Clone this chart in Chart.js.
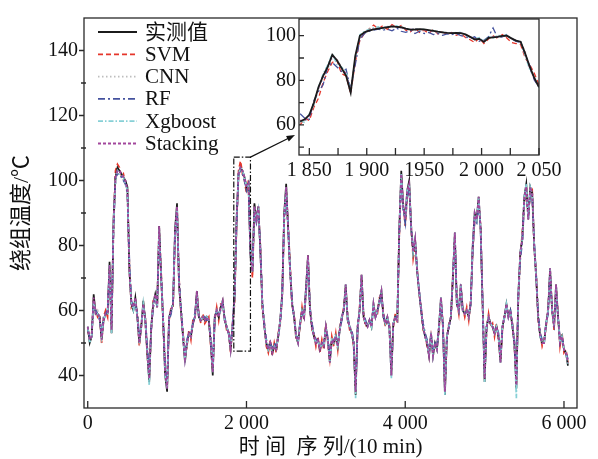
<!DOCTYPE html>
<html>
<head>
<meta charset="utf-8">
<script src="https://cdn.jsdelivr.net/npm/chart.js@4.4.1/dist/chart.umd.min.js"></script>
<style>
  body { margin: 0; background: #fff; }
  #wrap { position: relative; width: 598px; height: 459px; }
  #main { position: absolute; left: 0; top: 0; }
  #zoom { position: absolute; left: 250px; top: 0; }
</style>
</head>
<body>
<div id="wrap">
  <canvas id="main" width="598" height="459"></canvas>
  <canvas id="zoom" width="330" height="190"></canvas>
</div>
<script>
'use strict';

// whole run, one value every 25 samples starting at 0
const STEP = 25;
const measured = [
  55, 50, 52, 65, 59, 59, 58, 51, 57, 59,
  59, 75, 53, 88, 101, 104, 103, 102, 101, 100,
  98, 72, 62, 60, 64, 58, 50, 55, 63, 57,
  47, 38, 55, 62, 65, 61, 86, 70, 57, 40,
  35, 58, 60, 62, 85, 93, 68, 60, 52, 44,
  50, 53, 52, 56, 58, 66, 58, 57, 58, 57,
  58, 57, 50, 40, 58, 60, 58, 61, 63, 57,
  55, 53, 48, 55, 64, 88, 102, 104, 103, 101,
  98, 99, 77, 72, 93, 88, 92, 78, 62, 55,
  50, 48, 50, 47, 49, 48, 52, 57, 65, 90,
  99, 85, 72, 62, 58, 52, 50, 56, 60, 58,
  67, 77, 60, 55, 52, 50, 51, 48, 50, 49,
  55, 51, 44, 51, 50, 52, 49, 54, 58, 60,
  68, 57, 55, 53, 50, 34, 55, 60, 71, 58,
  56, 55, 57, 55, 62, 58, 60, 63, 66, 58,
  56, 58, 55, 40, 56, 58, 57, 85, 103, 92,
  88, 97, 100, 85, 78, 82, 72, 66, 60, 55,
  52, 50, 46, 53, 46, 50, 48, 55, 64, 55,
  34, 52, 55, 58, 70, 84, 62, 60, 68, 60,
  59, 60, 58, 62, 80, 90, 88, 95, 85, 62,
  38, 55, 58, 56, 55, 53, 55, 52, 44, 55,
  58, 62, 58, 60, 55, 50, 36, 65, 78, 82,
  95, 99, 88, 98, 96, 80, 70, 58, 52, 50,
  50, 56, 60, 73, 60, 55, 68, 58, 50, 52,
  48, 47, 43
];
const svm = [
  54, 51, 53, 63, 60, 58, 59, 50, 58, 60,
  58, 73, 55, 86, 103, 105, 104, 101, 102, 99,
  97, 74, 61, 62, 63, 59, 49, 56, 61, 58,
  46, 40, 54, 63, 64, 62, 84, 72, 56, 42,
  37, 57, 61, 61, 83, 91, 70, 59, 53, 46,
  49, 54, 51, 57, 57, 65, 59, 56, 59, 56,
  57, 58, 49, 42, 57, 61, 57, 62, 62, 58,
  54, 54, 47, 56, 62, 86, 103, 106, 102, 100,
  96, 100, 79, 70, 91, 89, 90, 80, 60, 56,
  49, 47, 51, 46, 50, 47, 53, 56, 64, 88,
  97, 86, 74, 61, 59, 51, 51, 55, 61, 57,
  66, 76, 61, 54, 53, 49, 52, 47, 51, 48,
  56, 50, 45, 52, 49, 53, 48, 55, 57, 61,
  67, 58, 54, 54, 49, 36, 54, 61, 70, 59,
  55, 56, 56, 56, 61, 59, 59, 64, 65, 59,
  55, 57, 56, 42, 55, 59, 56, 83, 101, 93,
  86, 95, 98, 86, 76, 80, 73, 65, 61, 54,
  53, 49, 47, 52, 47, 49, 49, 54, 63, 56,
  36, 51, 56, 57, 71, 82, 63, 59, 67, 61,
  58, 61, 57, 63, 78, 88, 89, 93, 86, 61,
  40, 54, 59, 55, 56, 52, 56, 51, 45, 54,
  59, 61, 59, 59, 56, 49, 38, 64, 77, 84,
  93, 98, 90, 96, 97, 79, 71, 57, 53, 49,
  51, 55, 61, 71, 61, 54, 67, 59, 49, 53,
  47, 48, 44
];
const cnn = [
  55, 51, 52, 64, 59, 60, 58, 52, 57, 59,
  59, 74, 54, 87, 100, 103, 103, 102, 100, 100,
  97, 73, 62, 61, 63, 58, 51, 55, 62, 57,
  48, 39, 55, 62, 64, 61, 85, 71, 57, 41,
  36, 58, 60, 62, 84, 92, 69, 60, 52, 45,
  50, 53, 52, 56, 58, 65, 58, 57, 58, 57,
  58, 57, 51, 41, 58, 60, 58, 61, 62, 57,
  55, 53, 49, 55, 64, 87, 102, 104, 103, 101,
  98, 99, 78, 72, 92, 88, 91, 79, 62, 55,
  50, 48, 50, 48, 49, 48, 52, 57, 64, 89,
  98, 85, 73, 62, 58, 52, 50, 56, 60, 58,
  66, 76, 60, 55, 52, 50, 51, 48, 50, 49,
  55, 51, 45, 51, 50, 52, 49, 54, 58, 60,
  67, 57, 55, 53, 50, 35, 55, 60, 70, 58,
  56, 55, 57, 55, 61, 58, 60, 63, 65, 58,
  56, 58, 55, 41, 56, 58, 57, 84, 102, 92,
  88, 96, 99, 85, 78, 81, 72, 66, 60, 55,
  52, 50, 46, 53, 47, 50, 48, 55, 63, 55,
  35, 52, 55, 58, 70, 83, 62, 60, 67, 60,
  59, 60, 58, 62, 79, 89, 88, 94, 85, 62,
  39, 55, 58, 56, 55, 53, 55, 52, 45, 55,
  58, 62, 58, 60, 55, 50, 37, 65, 77, 82,
  94, 98, 89, 97, 96, 80, 70, 58, 52, 50,
  50, 56, 60, 72, 60, 55, 67, 58, 50, 52,
  48, 47, 44
];
const rf = [
  54, 52, 53, 62, 60, 59, 57, 53, 58, 59,
  60, 72, 56, 85, 101, 102, 102, 101, 100, 99,
  96, 75, 63, 61, 62, 59, 52, 56, 61, 58,
  49, 41, 54, 61, 63, 62, 83, 71, 58, 43,
  38, 57, 59, 63, 82, 90, 70, 61, 53, 47,
  51, 53, 53, 56, 59, 64, 58, 57, 57, 58,
  57, 57, 52, 43, 57, 60, 59, 60, 62, 58,
  55, 53, 50, 56, 65, 86, 102, 103, 102, 100,
  97, 99, 80, 73, 90, 87, 90, 80, 63, 56,
  51, 49, 50, 48, 50, 49, 52, 56, 64, 87,
  96, 86, 73, 63, 58, 53, 51, 56, 59, 58,
  65, 75, 61, 56, 53, 51, 51, 49, 50, 50,
  54, 52, 46, 51, 51, 52, 50, 54, 57, 60,
  66, 58, 55, 54, 51, 37, 54, 60, 69, 59,
  57, 55, 57, 56, 61, 58, 60, 62, 65, 59,
  56, 57, 55, 43, 56, 58, 58, 83, 100, 91,
  87, 95, 98, 86, 79, 80, 73, 66, 61, 56,
  53, 51, 47, 52, 48, 50, 49, 55, 62, 56,
  37, 52, 55, 58, 69, 82, 63, 60, 66, 60,
  59, 60, 59, 62, 78, 88, 87, 93, 85, 63,
  41, 55, 57, 56, 55, 54, 55, 53, 46, 55,
  58, 61, 58, 60, 56, 51, 39, 64, 76, 81,
  93, 97, 89, 96, 95, 81, 71, 59, 53, 51,
  51, 56, 59, 71, 60, 56, 66, 58, 51, 52,
  48, 47, 45
];
const xgboost = [
  55, 50, 52, 63, 59, 59, 58, 52, 57, 59,
  59, 74, 53, 87, 100, 103, 102, 102, 101, 99,
  97, 73, 62, 60, 63, 58, 50, 55, 62, 57,
  47, 37, 55, 62, 64, 61, 85, 70, 57, 40,
  36, 58, 60, 62, 84, 92, 68, 60, 52, 45,
  50, 53, 52, 56, 58, 65, 58, 57, 58, 57,
  58, 57, 50, 41, 58, 60, 58, 61, 63, 57,
  55, 53, 48, 55, 63, 89, 102, 104, 103, 101,
  98, 99, 77, 72, 92, 88, 91, 78, 62, 55,
  50, 48, 50, 47, 49, 48, 52, 57, 65, 89,
  98, 85, 72, 62, 58, 52, 50, 56, 60, 58,
  67, 76, 60, 55, 52, 50, 51, 48, 50, 49,
  55, 51, 44, 51, 50, 52, 49, 54, 58, 60,
  68, 57, 55, 53, 50, 33, 55, 60, 71, 58,
  56, 55, 57, 55, 62, 58, 60, 63, 66, 58,
  56, 58, 55, 39, 56, 58, 57, 85, 102, 92,
  88, 97, 99, 85, 78, 82, 72, 66, 60, 55,
  52, 50, 46, 53, 46, 50, 48, 55, 64, 55,
  34, 52, 55, 58, 70, 84, 62, 60, 68, 60,
  59, 60, 58, 62, 80, 90, 88, 95, 85, 62,
  38, 55, 58, 56, 55, 53, 55, 52, 44, 55,
  58, 62, 58, 60, 55, 50, 33, 65, 78, 82,
  95, 99, 88, 98, 96, 80, 70, 58, 52, 50,
  50, 56, 60, 73, 60, 55, 68, 58, 50, 52,
  48, 47, 43
];
const stacking = [
  55, 51, 52, 64, 59, 59, 58, 51, 57, 59,
  59, 74, 54, 87, 101, 103, 103, 102, 101, 100,
  97, 72, 62, 61, 64, 58, 50, 55, 62, 57,
  47, 39, 55, 62, 65, 61, 86, 70, 57, 41,
  36, 58, 60, 62, 85, 92, 68, 60, 52, 45,
  50, 53, 52, 56, 58, 66, 58, 57, 58, 57,
  58, 57, 50, 41, 58, 60, 58, 61, 63, 57,
  55, 53, 48, 55, 64, 88, 102, 104, 103, 101,
  98, 99, 77, 72, 92, 88, 92, 78, 62, 55,
  50, 48, 50, 47, 49, 48, 52, 57, 65, 89,
  98, 85, 72, 62, 58, 52, 50, 56, 60, 58,
  67, 77, 60, 55, 52, 50, 51, 48, 50, 49,
  55, 51, 44, 51, 50, 52, 49, 54, 58, 60,
  68, 57, 55, 53, 50, 35, 55, 60, 71, 58,
  56, 55, 57, 55, 62, 58, 60, 63, 66, 58,
  56, 58, 55, 40, 56, 58, 57, 85, 102, 92,
  88, 97, 99, 85, 78, 82, 72, 66, 60, 55,
  52, 50, 46, 53, 46, 50, 48, 55, 64, 55,
  35, 52, 55, 58, 70, 84, 62, 60, 68, 60,
  59, 60, 58, 62, 80, 90, 88, 95, 85, 62,
  39, 55, 58, 56, 55, 53, 55, 52, 44, 55,
  58, 62, 58, 60, 55, 50, 37, 65, 78, 82,
  95, 98, 88, 98, 96, 80, 70, 58, 52, 50,
  50, 56, 60, 73, 60, 55, 68, 58, 50, 52,
  48, 47, 44
];

// close-up window 1842..2050, one value every 4 samples
const ZOOM_START = 1842;
const ZOOM_STEP = 4;
const zoomMeasured = [
  61.5, 62.5, 64.5, 70, 77, 82, 86, 91.5, 89, 85.5,
  82, 74.5, 91, 100, 101.5, 102.3, 102.8, 103.2, 103.5, 103.8,
  104.2, 104, 103.8, 103.2, 102.7, 102.8, 103, 102.8, 102.5, 102.2,
  101.8, 101.5, 101.3, 101.2, 101.3, 101.2, 100.6, 99.5, 98.3, 98.6,
  97.2, 99, 99.3, 99.5, 99.9, 100, 98.8, 97.8, 97.3, 92,
  86, 81, 77
];
const zoomSvm = [
  60, 63, 62, 68, 72, 79, 84, 88, 89, 83,
  82, 74, 88, 98, 101, 103, 104.8, 103, 104.5, 102.8,
  105, 103.5, 104.6, 102.5, 101.8, 103.5, 101.5, 102.5, 101, 102.8,
  100.8, 101.8, 100.5, 101.5, 100.2, 101, 99.2, 98.2, 97, 99,
  96.5, 98.5, 100, 98.8, 100.5, 99, 97, 96.5, 96, 90,
  87, 83, 78
];
const zoomCnn = [
  61, 62, 64, 69, 76, 81, 85, 90, 89.5, 86,
  83, 76, 89, 99, 101.8, 102.6, 103, 103.4, 103.8, 104,
  104.4, 104.2, 103.5, 103, 102.5, 102.6, 102.8, 102.6, 102.4, 102,
  101.5, 101.2, 101.4, 101, 101.5, 101.4, 100.3, 99.6, 98.8, 98.4,
  97.8, 99.2, 99.6, 99.8, 100.2, 99.7, 99, 98, 97, 93,
  85, 80.5, 76.5
];
const zoomRf = [
  65, 63, 62.5, 71, 75, 78, 86, 88, 86, 84,
  85, 76, 87, 98.5, 101, 102, 102.5, 103, 102.5, 103,
  102.2, 103.5, 102, 101.5, 102.5, 101, 102, 101, 101.5, 100.5,
  101, 100.2, 100.8, 100.5, 101, 100, 99.5, 98.8, 99.5, 97.5,
  98, 99.5, 103.5, 99, 99.5, 100.5, 98.5, 97.5, 97, 91.5,
  86.5, 80, 77
];
const zoomXgboost = [
  62, 61, 65, 69, 77, 83, 87, 92, 87, 86,
  84, 75, 90, 100.5, 102, 103, 103.5, 104, 103, 104.2,
  103.8, 104.5, 103.5, 103.2, 102.8, 103.3, 102.6, 103, 102.2, 102.5,
  101.6, 101.8, 101, 101.5, 101, 101.6, 100.4, 99.2, 98.6, 99.2,
  97.5, 99.6, 99, 100.2, 99.8, 100.4, 99, 97.6, 97.5, 91,
  84.5, 81.5, 76.5
];
const zoomStacking = [
  62, 62, 64, 70, 76.5, 82, 86, 91, 89, 85.5,
  83, 75, 90, 99.5, 101.5, 102.4, 103, 103.3, 103.6, 103.8,
  104.2, 104, 103.6, 103.2, 102.8, 102.8, 102.9, 102.7, 102.4, 102.1,
  101.7, 101.4, 101.2, 101.2, 101.2, 101.1, 100.5, 99.5, 98.5, 98.6,
  97.4, 99, 99.4, 99.6, 99.9, 100, 98.8, 97.8, 97.2, 92,
  85.5, 80.8, 76.8
];

const xTickVals = [0, 2000, 4000, 6000];
const yTickVals = [40, 60, 80, 100, 120, 140];
const zoomXTickVals = [1850, 1875, 1900, 1925, 1950, 1975, 2000, 2025, 2050];
const zoomXLabels = { 1850: '1 850', 1900: '1 900', 1950: '1950', 2000: '2 000', 2050: '2 050' };
const zoomYTickVals = [60, 80, 100];
const boxRange = { x0: 1840, x1: 2050, y0: 47.5, y1: 107.2 };

const names = ['实测值', 'SVM', 'CNN', 'RF', 'Xgboost', 'Stacking'];
const serif = "'Liberation Serif', 'Times New Roman', 'Noto Sans CJK SC', serif";

// line look per model, and stacking order (higher order is drawn first)
const looks = [
  { color: '#1b1b1b', dash: [], width: 1.7, order: 4, zoomOrder: 0 },
  { color: '#e5362b', dash: [5, 3], width: 1.7, order: 6, zoomOrder: 5 },
  { color: '#bdbdbd', dash: [1.5, 2.5], width: 1.7, order: 5, zoomOrder: 4 },
  { color: '#44529e', dash: [7, 3, 2, 3], width: 1.7, order: 3, zoomOrder: 3 },
  { color: '#86d0d6', dash: [5, 2, 1.5, 2], width: 1.7, order: 2, zoomOrder: 2 },
  { color: '#a2479c', dash: [3, 2], width: 1.8, order: 1, zoomOrder: 1 }
];

const mainSeries = [measured, svm, cnn, rf, xgboost, stacking];
const zoomSeries = [zoomMeasured, zoomSvm, zoomCnn, zoomRf, zoomXgboost, zoomStacking];

function thousands(v) {
  return v === 0 ? '0' : (v / 1000) + ' 000';
}

function makeSets(series, start, step, zoom) {
  return series.map(function (vals, k) {
    const lk = looks[k];
    return {
      label: names[k],
      data: vals.map(function (v, i) { return { x: start + i * step, y: v }; }),
      borderColor: lk.color,
      borderDash: lk.dash,
      borderWidth: zoom ? (k === 0 ? 1.8 : 1.3) : lk.width,
      order: zoom ? lk.zoomOrder : lk.order,
      pointRadius: 0,
      tension: 0,
      fill: false
    };
  });
}

// frame, tick marks, hand legend, dashed box and arrow for the full run
const mainDecor = {
  id: 'mainDecor',
  afterDatasetsDraw(chart) {
    const ctx = chart.ctx;
    const a = chart.chartArea;
    const x = chart.scales.x, y = chart.scales.y;
    ctx.save();
    ctx.strokeStyle = '#2a2a2a';
    ctx.lineWidth = 1.3;
    ctx.setLineDash([]);
    ctx.strokeRect(a.left, a.top, a.right - a.left, a.bottom - a.top);
    ctx.beginPath();
    xTickVals.forEach(function (v) {
      const px = x.getPixelForValue(v);
      ctx.moveTo(px, a.bottom);
      ctx.lineTo(px, a.bottom - 7);
    });
    for (let v = 40; v <= 140; v += 10) {
      const py = y.getPixelForValue(v);
      if (v % 20 === 0) { ctx.moveTo(a.left - 5, py); ctx.lineTo(a.left, py); }
      else { ctx.moveTo(a.left - 3, py); ctx.lineTo(a.left + 2, py); }
    }
    ctx.stroke();

    // dashed box around the zoomed window
    const bx0 = x.getPixelForValue(boxRange.x0), bx1 = x.getPixelForValue(boxRange.x1);
    const by0 = y.getPixelForValue(boxRange.y1), by1 = y.getPixelForValue(boxRange.y0);
    ctx.strokeStyle = '#111';
    ctx.lineWidth = 1.2;
    ctx.setLineDash([6, 2, 1.5, 2]);
    ctx.strokeRect(bx0, by0, bx1 - bx0, by1 - by0);

    // arrow toward the close-up
    const ex = 295, ey = 135;
    ctx.setLineDash([]);
    ctx.beginPath();
    ctx.moveTo(bx1, by0);
    ctx.lineTo(ex - 6, ey + 3);
    ctx.stroke();
    const ang = Math.atan2(ey - by0, ex - bx1);
    ctx.beginPath();
    ctx.moveTo(ex, ey);
    ctx.lineTo(ex - 9 * Math.cos(ang - 0.35), ey - 9 * Math.sin(ang - 0.35));
    ctx.lineTo(ex - 9 * Math.cos(ang + 0.35), ey - 9 * Math.sin(ang + 0.35));
    ctx.closePath();
    ctx.fillStyle = '#111';
    ctx.fill();

    // legend
    ctx.font = '21px ' + serif;
    ctx.textBaseline = 'middle';
    ctx.textAlign = 'left';
    names.forEach(function (n, k) {
      const ly = 32 + k * 22.3;
      ctx.beginPath();
      ctx.strokeStyle = looks[k].color;
      ctx.lineWidth = 1.8;
      ctx.setLineDash(looks[k].dash);
      ctx.moveTo(98, ly);
      ctx.lineTo(137, ly);
      ctx.stroke();
      ctx.fillStyle = '#111';
      ctx.fillText(n, 145, ly + 1);
    });
    ctx.restore();
  }
};

// white panel, frame and ticks for the close-up
const zoomDecor = {
  id: 'zoomDecor',
  beforeDatasetsDraw(chart) {
    const a = chart.chartArea;
    chart.ctx.save();
    chart.ctx.fillStyle = '#fff';
    chart.ctx.fillRect(a.left, a.top, a.right - a.left, a.bottom - a.top);
    chart.ctx.restore();
  },
  afterDatasetsDraw(chart) {
    const ctx = chart.ctx;
    const a = chart.chartArea;
    const x = chart.scales.x, y = chart.scales.y;
    ctx.save();
    ctx.strokeStyle = '#2a2a2a';
    ctx.lineWidth = 1.3;
    ctx.setLineDash([]);
    ctx.strokeRect(a.left, a.top, a.right - a.left, a.bottom - a.top);
    ctx.beginPath();
    zoomXTickVals.forEach(function (v) {
      const px = x.getPixelForValue(v);
      ctx.moveTo(px, a.bottom);
      ctx.lineTo(px, a.bottom - 7);
    });
    for (let v = 50; v <= 100; v += 10) {
      const py = y.getPixelForValue(v);
      ctx.moveTo(a.left, py);
      ctx.lineTo(a.left + 5, py);
    }
    ctx.stroke();
    ctx.restore();
  }
};

const tickFont = { family: serif, size: 20 };

new Chart(document.getElementById('main'), {
  type: 'line',
  data: { datasets: makeSets(mainSeries, 0, STEP, false) },
  options: {
    responsive: false,
    animation: false,
    devicePixelRatio: 1,
    layout: { padding: { left: 0, right: 21, top: 15, bottom: 0 } },
    plugins: { legend: { display: false }, tooltip: { enabled: false } },
    scales: {
      x: {
        type: 'linear', min: -47, max: 6164,
        afterBuildTicks: function (s) { s.ticks = xTickVals.map(function (v) { return { value: v }; }); },
        afterFit: function (s) { s.height = 51; },
        grid: { display: false, drawTicks: false },
        border: { display: false },
        ticks: { font: tickFont, color: '#111', padding: 4, maxRotation: 0, autoSkip: false, callback: thousands },
        title: { display: true, text: '时 间  序 列/(10 min)', font: { family: serif, size: 21 }, color: '#111', padding: { top: 0, bottom: -1 } }
      },
      y: {
        type: 'linear', min: 30, max: 150,
        afterBuildTicks: function (s) { s.ticks = yTickVals.map(function (v) { return { value: v }; }); },
        afterFit: function (s) { s.width = 84; },
        grid: { display: false, drawTicks: false },
        border: { display: false },
        ticks: { font: tickFont, color: '#111', padding: 6 },
        title: { display: true, text: '绕组温度/℃', font: { family: serif, size: 22 }, color: '#111', padding: { top: 9, bottom: 0 } }
      }
    }
  },
  plugins: [mainDecor]
});

new Chart(document.getElementById('zoom'), {
  type: 'line',
  data: { datasets: makeSets(zoomSeries, ZOOM_START, ZOOM_STEP, true) },
  options: {
    responsive: false,
    animation: false,
    devicePixelRatio: 1,
    layout: { padding: { left: 0, right: 41, top: 19, bottom: 0 } },
    plugins: { legend: { display: false }, tooltip: { enabled: false } },
    scales: {
      x: {
        type: 'linear', min: 1841, max: 2050,
        afterBuildTicks: function (s) { s.ticks = zoomXTickVals.map(function (v) { return { value: v }; }); },
        afterFit: function (s) { s.height = 35; },
        grid: { display: false, drawTicks: false },
        border: { display: false },
        ticks: { font: tickFont, color: '#111', padding: 4, maxRotation: 0, autoSkip: false,
                 callback: function (v) { return zoomXLabels[v] || ''; } }
      },
      y: {
        type: 'linear', min: 46.5, max: 107.5,
        afterBuildTicks: function (s) { s.ticks = zoomYTickVals.map(function (v) { return { value: v }; }); },
        afterFit: function (s) { s.width = 49; },
        grid: { display: false, drawTicks: false },
        border: { display: false },
        ticks: { font: tickFont, color: '#111', padding: 3 }
      }
    }
  },
  plugins: [zoomDecor]
});
</script>
</body>
</html>
